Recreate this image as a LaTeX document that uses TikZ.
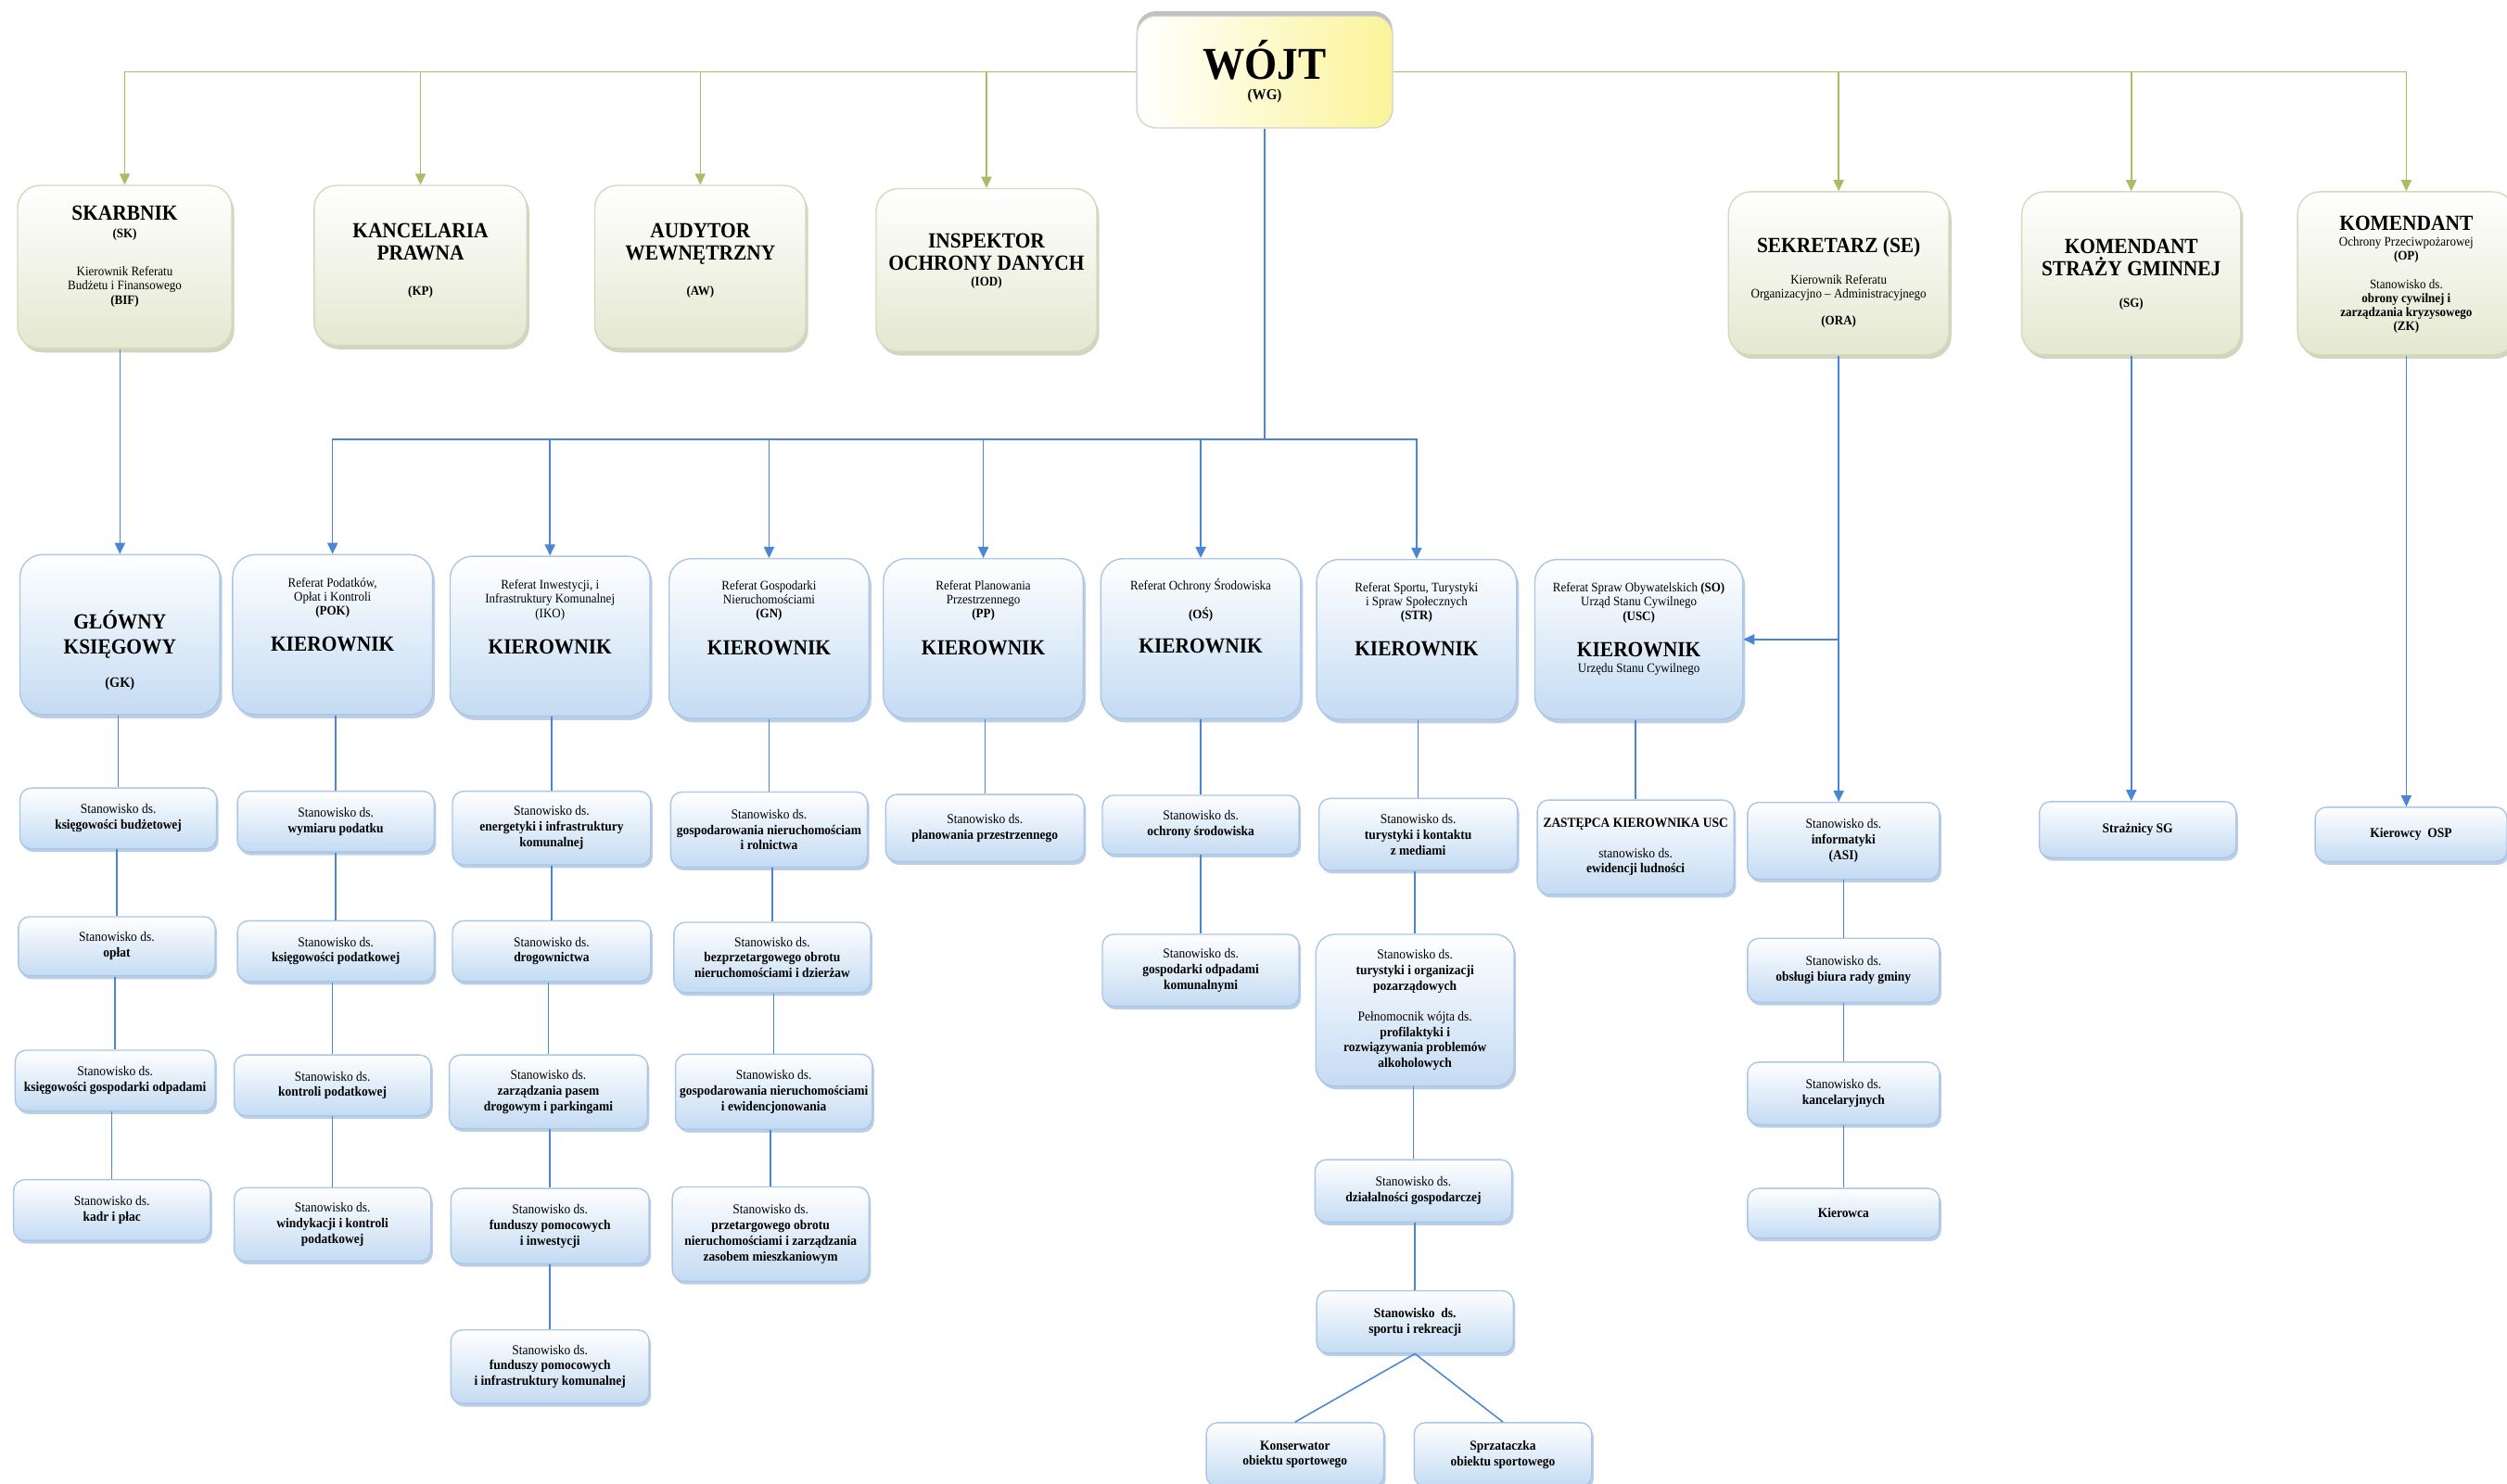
\documentclass[tikz,border=0pt]{standalone}
\usepackage{fontspec}
\setmainfont{Liberation Serif}[FakeStretch=0.92]
\usetikzlibrary{arrows.meta,shadows}

\definecolor{lineblue}{HTML}{4A86D4}
\definecolor{linegreen}{HTML}{A8BE62}
\definecolor{boxblue}{HTML}{C4DBF3}
\definecolor{edgeblue}{HTML}{A9C6E8}
\definecolor{shadeblue}{HTML}{8FAED6}
\definecolor{boxgreen}{HTML}{E4E8D0}
\definecolor{edgegreen}{HTML}{D3DABB}
\definecolor{shadegreen}{HTML}{B4BB98}
\definecolor{wojtyellow}{HTML}{FBF49A}

\newcommand{\bigt}{\fontsize{13.5}{15}\selectfont\bfseries}
\newcommand{\reft}{\fontsize{8.2}{8.8}\selectfont}

\tikzset{
  topbox/.style={draw=edgegreen, line width=.8pt, rounded corners=14pt,
    top color=white, bottom color=boxgreen, minimum width=134pt, minimum height=102pt,
    drop shadow={shadow xshift=1.5pt, shadow yshift=-2.5pt, fill=shadegreen, opacity=.6}},
  kbox/.style={draw=edgeblue, line width=.8pt, rounded corners=14pt,
    top color=white, bottom color=boxblue, minimum width=125pt, minimum height=100pt,
    drop shadow={shadow xshift=1.5pt, shadow yshift=-2.5pt, fill=shadeblue, opacity=.6}},
  stan/.style={draw=edgeblue, line width=.8pt, rounded corners=7pt,
    top color=white, bottom color=boxblue, minimum width=123pt, minimum height=38pt,
    inner sep=2pt, align=center, font=\fontsize{8.5}{9.8}\selectfont,
    drop shadow={shadow xshift=1.2pt, shadow yshift=-2pt, fill=shadeblue, opacity=.6}},
  wojtbox/.style={draw=gray!35, line width=.8pt, rounded corners=12pt,
    left color=white, right color=wojtyellow, minimum width=160pt, minimum height=70pt,
    align=center, font=\reft,
    drop shadow={shadow xshift=0pt, shadow yshift=3pt, fill=gray!70, opacity=.7}},
  txt/.style={align=center, inner sep=0pt, font=\reft},
  bline/.style={draw=lineblue, line width=.9pt},
  barrow/.style={bline, -{Triangle[length=7pt,width=6.5pt]}},
  garrow/.style={draw=linegreen, line width=.9pt, -{Triangle[length=7pt,width=6.5pt]}},
}

\begin{document}
\begin{tikzpicture}[x=1pt,y=-1pt]
\useasboundingbox (0,0) rectangle (1568,928);

\node[wojtbox] (wojt) at (791,45) {{\fontsize{28.5}{30}\selectfont\bfseries WÓJT}\\[4pt]
  {\fontsize{9.5}{10}\selectfont\bfseries (WG)}};

% stanowiska przy wojcie
\node[topbox] (sk) at (78,167) {};
\node[topbox, minimum width=133pt, minimum height=100pt] (kp) at (263,166) {};
\node[topbox, minimum width=132pt] (aw) at (438,167) {};
\node[topbox, minimum width=138pt] (iod) at (617,169) {};
\node[topbox, minimum width=138pt] (se) at (1150,171) {};
\node[topbox, minimum width=137pt] (ksg) at (1333,171) {};
\node[topbox, minimum width=136pt] (kop) at (1505,171) {};

\node[txt] (skT) at ([yshift=6.5pt]sk.center) {{\bigt SKARBNIK}\\[2.2pt] \textbf{(SK)}\\[15pt]
  Kierownik Referatu\\ Budżetu i Finansowego\\ \textbf{(BIF)}};
\node[txt] (kpT) at ([yshift=3pt]kp.center) {{\bigt KANCELARIA}\\[4pt] {\bigt PRAWNA}\\[13pt] \textbf{(KP)}};
\node[txt] (awT) at ([yshift=4pt]aw.center) {{\bigt AUDYTOR}\\[4pt] {\bigt WEWNĘTRZNY}\\[13pt] \textbf{(AW)}};
\node[txt] (iodT) at ([yshift=5.5pt]iod.center) {{\bigt INSPEKTOR}\\[4pt] {\bigt OCHRONY DANYCH}\\[1.2pt] \textbf{(IOD)}};
\node[txt] (seT) at ([yshift=-6pt]se.center) {{\bigt SEKRETARZ (SE)}\\[11pt] Kierownik Referatu\\
  Organizacyjno – Administracyjnego\\[8pt] \textbf{(ORA)}};
\node[txt] (ksgT) at ([yshift=-1pt]ksg.center) {{\bigt KOMENDANT}\\[1pt] {\bigt STRAŻY GMINNEJ}\\[11pt] \textbf{(SG)}};
\node[txt] (kopT) at ([yshift=-1pt]kop.center) {{\bigt KOMENDANT}\\[1pt] Ochrony Przeciwpożarowej\\ \textbf{(OP)}\\[9pt]
  Stanowisko ds.\\ \textbf{obrony cywilnej i}\\ \textbf{zarządzania kryzysowego}\\ \textbf{(ZK)}};

% referaty
\node[kbox] (gk) at (75,397) {};
\node[kbox] (pok) at (208,397) {};
\node[kbox] (iko) at (344,398) {};
\node[kbox] (gn) at (481,399.5) {};
\node[kbox] (pp) at (615,399.5) {};
\node[kbox] (os) at (751,399.5) {};
\node[kbox] (str) at (886,400) {};
\node[kbox, minimum width=130pt] (usc) at (1025,400) {};

\node[txt] (gkT) at ([yshift=-10pt]gk.center) {{\bigt GŁÓWNY}\\[5pt] {\bigt KSIĘGOWY}\\[11pt]
  {\fontsize{9}{10}\selectfont\bfseries (GK)}};
\node[txt] (pokT) at ([yshift=12.5pt]pok.center) {Referat Podatków,\\ Opłat i Kontroli\\ \textbf{(POK)}\\[11pt] {\bigt KIEROWNIK}};
\node[txt] (ikoT) at ([yshift=12pt]iko.center) {Referat Inwestycji, i\\ Infrastruktury Komunalnej\\ (IKO)\\[11pt] {\bigt KIEROWNIK}};
\node[txt] (gnT) at ([yshift=13pt]gn.center) {Referat Gospodarki\\ Nieruchomościami\\ \textbf{(GN)}\\[11pt] {\bigt KIEROWNIK}};
\node[txt] (ppT) at ([yshift=13pt]pp.center) {Referat Planowania\\ Przestrzennego\\ \textbf{(PP)}\\[11pt] {\bigt KIEROWNIK}};
\node[txt] (osT) at ([yshift=14pt]os.center) {Referat Ochrony Środowiska\\[8pt] \textbf{(OŚ)}\\[10pt] {\bigt KIEROWNIK}};
\node[txt] (strT) at ([yshift=12.5pt]str.center) {Referat Sportu, Turystyki\\ i Spraw Społecznych\\ \textbf{(STR)}\\[11pt] {\bigt KIEROWNIK}};
\node[txt] (uscT) at ([yshift=6.5pt]usc.center) {Referat Spraw Obywatelskich \textbf{(SO)}\\ Urząd Stanu Cywilnego\\ \textbf{(USC)}\\[11pt]
  {\bigt KIEROWNIK}\\[1.2pt] Urzędu Stanu Cywilnego};

% stanowiska
\node[stan] (gk1) at (74,512) {Stanowisko ds.\\ \textbf{księgowości budżetowej}};
\node[stan, minimum height=37pt] (gk2) at (73,592) {Stanowisko ds.\\ \textbf{opłat}};
\node[stan, minimum width=125pt] (gk3) at (72,676) {Stanowisko ds.\\ \textbf{księgowości gospodarki odpadami}};
\node[stan] (gk4) at (70,757) {Stanowisko ds.\\ \textbf{kadr i płac}};

\node[stan] (pok1) at (210,514) {Stanowisko ds.\\ \textbf{wymiaru podatku}};
\node[stan] (pok2) at (210,595) {Stanowisko ds.\\ \textbf{księgowości podatkowej}};
\node[stan] (pok3) at (208,679) {Stanowisko ds.\\ \textbf{kontroli podatkowej}};
\node[stan, minimum height=46pt] (pok4) at (208,766) {Stanowisko ds.\\ \textbf{windykacji i kontroli}\\ \textbf{podatkowej}};

\node[stan, minimum width=124pt, minimum height=46pt] (iko1) at (345,518) {Stanowisko ds.\\ \textbf{energetyki i infrastruktury}\\ \textbf{komunalnej}};
\node[stan, minimum width=124pt] (iko2) at (345,595) {Stanowisko ds.\\ \textbf{drogownictwa}};
\node[stan, minimum width=124pt, minimum height=46pt] (iko3) at (343,683) {Stanowisko ds.\\ \textbf{zarządzania pasem}\\ \textbf{drogowym i parkingami}};
\node[stan, minimum width=124pt, minimum height=47pt] (iko4) at (344,767) {Stanowisko ds.\\ \textbf{funduszy pomocowych}\\ \textbf{i inwestycji}};
\node[stan, minimum width=124pt, minimum height=46pt] (iko5) at (344,855) {Stanowisko ds.\\ \textbf{funduszy pomocowych}\\ \textbf{i infrastruktury komunalnej}};

\node[stan, minimum height=47pt] (gn1) at (481,519) {Stanowisko ds.\\ \textbf{gospodarowania nieruchomościam}\\ \textbf{i rolnictwa}};
\node[stan, minimum height=44pt] (gn2) at (483,599) {Stanowisko ds.\\ \textbf{bezprzetargowego obrotu}\\ \textbf{nieruchomościami i dzierżaw}};
\node[stan, minimum height=47pt] (gn3) at (484,683) {Stanowisko ds.\\ \textbf{gospodarowania nieruchomościami}\\ \textbf{i ewidencjonowania}};
\node[stan, minimum height=59pt] (gn4) at (482,772) {Stanowisko ds.\\ \textbf{przetargowego obrotu}\\ \textbf{nieruchomościami i zarządzania}\\ \textbf{zasobem mieszkaniowym}};

\node[stan, minimum width=124pt, minimum height=42pt] (pp1) at (616,518) {Stanowisko ds.\\ \textbf{planowania przestrzennego}};

\node[stan, minimum height=37pt] (os1) at (751,516) {Stanowisko ds.\\ \textbf{ochrony środowiska}};
\node[stan, minimum height=45pt] (os2) at (751,607) {Stanowisko ds.\\ \textbf{gospodarki odpadami}\\ \textbf{komunalnymi}};

\node[stan, minimum width=124pt, minimum height=45pt] (str1) at (887,522) {Stanowisko ds.\\ \textbf{turystyki i kontaktu}\\ \textbf{z mediami}};
\node[stan, minimum width=124pt, minimum height=95pt, rounded corners=12pt] (str2) at (885,632) {Stanowisko ds.\\ \textbf{turystyki i organizacji}\\
  \textbf{pozarządowych}\\[9pt] Pełnomocnik wójta ds.\\ \textbf{profilaktyki i}\\ \textbf{rozwiązywania problemów}\\ \textbf{alkoholowych}};
\node[stan, minimum height=39pt] (str3) at (884,745) {Stanowisko ds.\\ \textbf{działalności gospodarczej}};
\node[stan, minimum height=39pt] (str4) at (885,827) {\textbf{Stanowisko\ \ ds.}\\ \textbf{sportu i rekreacji}};
\node[stan, minimum width=111pt, minimum height=40pt] (kons) at (810,910) {\textbf{Konserwator}\\ \textbf{obiektu sportowego}};
\node[stan, minimum width=111pt, minimum height=40pt] (sprz) at (940,910) {\textbf{Sprzataczka}\\ \textbf{obiektu sportowego}};

\node[stan, minimum height=59pt] (usc1) at (1023,530) {\textbf{ZASTĘPCA KIEROWNIKA USC}\\[9pt] stanowisko ds.\\ \textbf{ewidencji ludności}};

\node[stan, minimum width=120pt, minimum height=48pt] (se1) at (1153,526) {Stanowisko ds.\\ \textbf{informatyki}\\ \textbf{(ASI)}};
\node[stan, minimum width=120pt, minimum height=40pt] (se2) at (1153,607) {Stanowisko ds.\\ \textbf{obsługi biura rady gminy}};
\node[stan, minimum width=120pt, minimum height=39pt] (se3) at (1153,684) {Stanowisko ds.\\ \textbf{kancelaryjnych}};
\node[stan, minimum width=120pt, minimum height=31pt] (se4) at (1153,759) {\textbf{Kierowca}};

\node[stan, minimum height=35pt] (sg1) at (1337,519) {\textbf{Strażnicy SG}};
\node[stan, minimum width=120pt, minimum height=34pt] (op1) at (1508,522) {\textbf{Kierowcy\ \ OSP}};

% polaczenia
\foreach \n in {sk,kp,aw,iod} \draw[garrow] (wojt.west) -| (\n.north);
\foreach \n in {se,ksg,kop} \draw[garrow] (wojt.east) -| (\n.north);

\coordinate (bus) at (791,275);
\draw[bline] (wojt.south) -- (bus);
\foreach \n in {pok,iko,gn,pp,os,str} \draw[barrow] (bus) -| (\n.north);
\draw[barrow] (gk.north |- sk.south) -- (gk.north);

\draw[barrow] (se.south) -- (se.south |- se1.north);
\draw[barrow] (se.south |- usc.east) -- (usc.east);
\draw[barrow] (ksg.south) -- (ksg.south |- sg1.north);
\draw[barrow] (kop.south) -- (kop.south |- op1.north);

\foreach \a/\b in {gk/gk1,gk1/gk2,gk2/gk3,gk3/gk4,pok/pok1,pok1/pok2,pok2/pok3,pok3/pok4,
  iko/iko1,iko1/iko2,iko2/iko3,iko3/iko4,iko4/iko5,gn/gn1,gn1/gn2,gn2/gn3,gn3/gn4,pp/pp1,
  os/os1,os1/os2,str/str1,str1/str2,str2/str3,str3/str4,usc/usc1,se1/se2,se2/se3,se3/se4}
  \draw[bline] (\a.south -| \b.north) -- (\b.north);
\draw[bline] (str4.south) -- (kons.north);
\draw[bline] (str4.south) -- (sprz.north);
\end{tikzpicture}
\end{document}
